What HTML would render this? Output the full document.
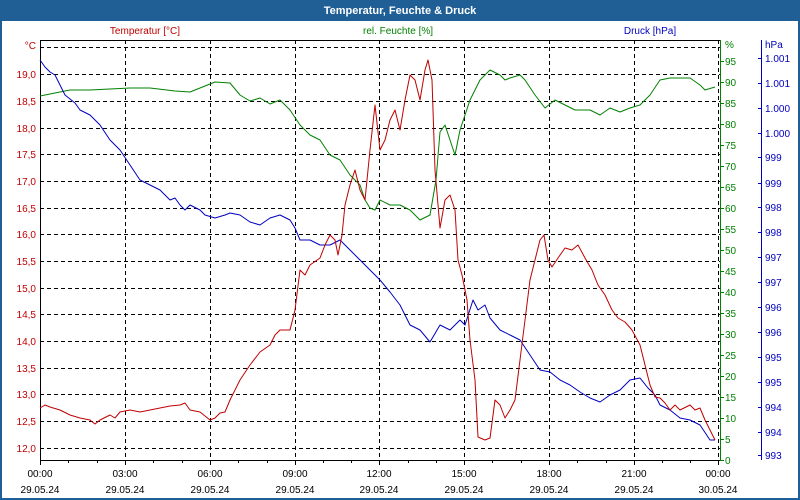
<!DOCTYPE html>
<html><head><meta charset="utf-8"><style>
html,body{margin:0;padding:0;background:#fff}
svg{display:block;font-family:"Liberation Sans",sans-serif}
</style></head><body>
<svg width="800" height="500" viewBox="0 0 800 500" xmlns="http://www.w3.org/2000/svg">
<rect x="0" y="0" width="800" height="500" fill="#fff"/>
<rect x="1" y="1" width="798" height="498" fill="none" stroke="#1f5f96" stroke-width="2"/>
<rect x="0" y="0" width="800" height="21" fill="#1f5f96"/>
<text x="400" y="14" fill="#fff" font-size="11" font-weight="bold" text-anchor="middle">Temperatur, Feuchte &amp; Druck</text>
<g font-size="10">
<text x="145" y="34" fill="#c00000" text-anchor="middle">Temperatur [°C]</text>
<text x="398" y="34" fill="#008000" text-anchor="middle">rel. Feuchte [%]</text>
<text x="650" y="34" fill="#0000c0" text-anchor="middle">Druck [hPa]</text>
</g>
<!-- grid -->
<g stroke="#000" stroke-width="1" stroke-dasharray="4,3" fill="none">
<path d="M40 47.5H720M40 74.5H720M40 101.5H720M40 128.5H720M40 154.5H720M40 181.5H720M40 208.5H720M40 234.5H720M40 261.5H720M40 288.5H720M40 314.5H720M40 341.5H720M40 368.5H720M40 394.5H720M40 421.5H720M40 448.5H720"/>
<path d="M125.5 40V460M210.5 40V460M295.5 40V460M379.5 40V460M464.5 40V460M549.5 40V460M634.5 40V460M718.5 40V460"/>
</g>
<path d="M40 40.5H720" stroke="#000"/>
<path d="M40.5 40V460M40 460.5H720" stroke="#000"/>
<g stroke="#000">
<path d="M40.5 460v5M68.5 460v3M97.5 460v3M125.5 460v5M153.5 460v3M182.5 460v3M210.5 460v5M238.5 460v3M267.5 460v3M295.5 460v5M323.5 460v3M351.5 460v3M379.5 460v5M408.5 460v3M436.5 460v3M464.5 460v5M492.5 460v3M521.5 460v3M549.5 460v5M577.5 460v3M606.5 460v3M634.5 460v5M662.5 460v3M690.5 460v3M718.5 460v5"/>
</g>
<path d="M720.5 40V460" stroke="#008000"/>
<path d="M761.5 40V460" stroke="#0000c0"/>
<g stroke="#008000">
<path d="M720 61.5h4M720 82.5h4M720 103.5h4M720 124.5h4M720 145.5h4M720 166.5h4M720 187.5h4M720 208.5h4M720 229.5h4M720 250.5h4M720 271.5h4M720 292.5h4M720 313.5h4M720 334.5h4M720 355.5h4M720 376.5h4M720 397.5h4M720 418.5h4M720 439.5h4M720 460.5h4"/>
</g>
<g stroke="#0000c0">
<path d="M758 58.5h3M758 83.5h3M758 108.5h3M758 133.5h3M758 157.5h3M758 183.5h3M758 207.5h3M758 232.5h3M758 257.5h3M758 282.5h3M758 307.5h3M758 332.5h3M758 357.5h3M758 382.5h3M758 407.5h3M758 432.5h3M758 455.5h3"/>
</g>
<g font-size="10" fill="#c00000" text-anchor="end">
<text x="36" y="49">°C</text>
<text x="36" y="78">19,0</text><text x="36" y="105">18,5</text><text x="36" y="132">18,0</text><text x="36" y="158">17,5</text><text x="36" y="185">17,0</text><text x="36" y="212">16,5</text><text x="36" y="238">16,0</text><text x="36" y="265">15,5</text><text x="36" y="292">15,0</text><text x="36" y="318">14,5</text><text x="36" y="345">14,0</text><text x="36" y="372">13,5</text><text x="36" y="398">13,0</text><text x="36" y="425">12,5</text><text x="36" y="452">12,0</text>
</g>
<g font-size="10" fill="#008000">
<text x="725" y="48">%</text>
<text x="725" y="65">95</text><text x="725" y="86">90</text><text x="725" y="107">85</text><text x="725" y="128">80</text><text x="725" y="149">75</text><text x="725" y="170">70</text><text x="725" y="191">65</text><text x="725" y="212">60</text><text x="725" y="233">55</text><text x="725" y="254">50</text><text x="725" y="275">45</text><text x="725" y="296">40</text><text x="725" y="317">35</text><text x="725" y="338">30</text><text x="725" y="359">25</text><text x="725" y="380">20</text><text x="725" y="401">15</text><text x="725" y="422">10</text><text x="725" y="443">5</text><text x="725" y="464">0</text>
</g>
<g font-size="10" fill="#0000c0">
<text x="765" y="48">hPa</text>
<text x="765" y="62">1.001</text><text x="765" y="87">1.001</text><text x="765" y="112">1.000</text><text x="765" y="137">1.000</text><text x="765" y="161">999</text><text x="765" y="187">999</text><text x="765" y="211">998</text><text x="765" y="236">998</text><text x="765" y="261">997</text><text x="765" y="286">997</text><text x="765" y="311">996</text><text x="765" y="336">996</text><text x="765" y="361">995</text><text x="765" y="386">995</text><text x="765" y="411">994</text><text x="765" y="436">994</text><text x="765" y="459">993</text>
</g>
<g font-size="10" fill="#000" text-anchor="middle">
<text x="40" y="477">00:00</text><text x="125" y="477">03:00</text><text x="210" y="477">06:00</text><text x="295" y="477">09:00</text><text x="379" y="477">12:00</text><text x="464" y="477">15:00</text><text x="549" y="477">18:00</text><text x="634" y="477">21:00</text><text x="718" y="477">00:00</text>
<text x="40" y="493">29.05.24</text><text x="125" y="493">29.05.24</text><text x="210" y="493">29.05.24</text><text x="295" y="493">29.05.24</text><text x="379" y="493">29.05.24</text><text x="464" y="493">29.05.24</text><text x="549" y="493">29.05.24</text><text x="634" y="493">29.05.24</text><text x="718" y="493">30.05.24</text>
</g>
<g fill="none" stroke-width="1" stroke-linejoin="round">
<polyline stroke="#008000" points="40,96 55,93 70,90 90,90 110,89 130,88 150,88 175,91 190,92 205,86 215,82 230,83 240,95 250,101 260,98 270,104 280,100 290,110 300,125 310,135 320,140 330,155 340,160 350,175 360,185 365,200 370,208 375,210 380,200 390,205 400,205 410,210 420,220 430,215 436,180 440,132 445,125 450,140 455,155 460,130 470,100 480,80 490,70 500,75 505,80 510,78 520,75 525,80 535,95 545,108 555,100 565,105 575,110 590,110 600,115 610,108 620,112 630,108 640,105 650,95 660,80 670,78 690,78 700,85 705,90 715,87"/>
<polyline stroke="#0000c0" points="40,60 45,67 50,72 55,75 60,85 65,95 75,103 80,110 90,115 100,125 110,140 120,150 130,165 140,180 150,185 160,190 165,195 170,200 175,198 180,205 185,210 190,205 200,210 205,215 215,218 225,215 230,213 240,215 250,222 260,225 270,218 280,215 290,220 295,228 300,240 310,240 320,245 330,245 340,240 350,250 360,260 370,270 380,280 390,292 400,305 410,325 420,330 430,342 440,325 450,330 460,320 465,325 473,300 478,310 485,305 490,318 500,330 510,335 520,340 530,355 540,370 550,372 560,380 570,385 580,392 590,398 600,402 610,395 620,390 630,380 640,378 648,388 655,395 660,405 670,410 680,418 690,420 700,425 710,440 715,440"/>
<polyline stroke="#c00000" points="40,408 45,405 50,407 60,410 70,415 80,418 90,420 95,424 100,420 110,415 115,418 120,412 130,410 140,412 150,410 160,408 170,406 180,405 185,403 190,410 200,412 210,420 215,418 220,413 225,412 230,400 240,380 250,365 260,352 270,345 275,335 280,330 290,330 295,310 300,270 305,275 310,265 320,258 325,245 330,235 335,240 338,255 342,235 345,205 350,185 355,170 360,190 365,200 370,150 375,105 380,150 385,140 390,120 395,110 400,130 405,100 410,75 415,80 420,100 425,70 428,60 432,80 435,170 440,228 445,200 450,195 455,210 458,260 462,275 467,300 470,340 475,380 478,437 485,440 490,438 495,400 500,405 505,418 510,410 515,400 520,360 525,320 530,280 535,260 540,240 544,235 548,260 552,267 558,258 565,248 572,250 578,245 585,258 592,270 598,285 605,295 612,310 618,318 625,322 632,330 640,345 645,365 650,385 655,397 660,398 665,403 670,410 675,405 680,410 690,405 695,410 700,408 705,420 710,430 715,440"/>
</g>
</svg>
</body></html>
